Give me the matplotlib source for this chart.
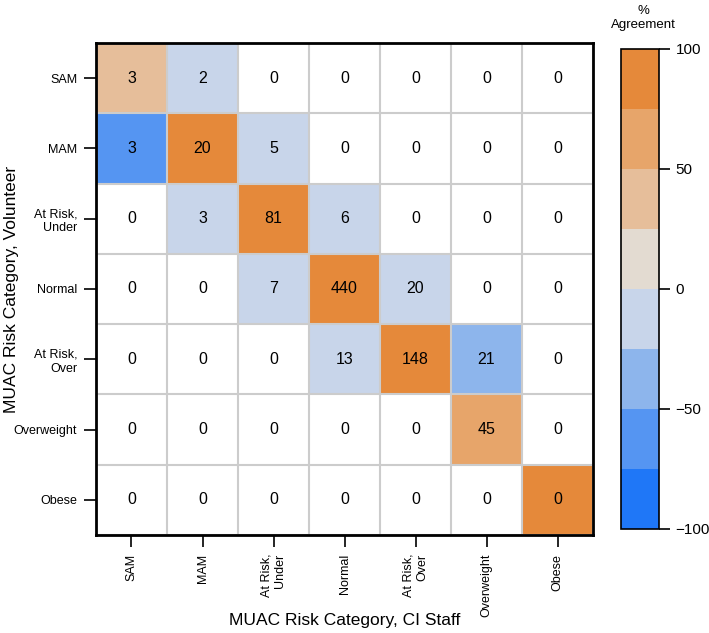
import numpy as np
import matplotlib
matplotlib.use("Agg")
import matplotlib.pyplot as plt
from matplotlib.colors import ListedColormap, BoundaryNorm
from matplotlib.cm import ScalarMappable

plt.rcParams['font.family'] = ['Liberation Sans', 'DejaVu Sans']

categories = ['SAM', 'MAM', 'At Risk,\nUnder', 'Normal', 'At Risk,\nOver', 'Overweight', 'Obese']

# counts: rows = volunteer, columns = CI staff
counts = [
    [3, 2, 0, 0, 0, 0, 0],
    [3, 20, 5, 0, 0, 0, 0],
    [0, 3, 81, 6, 0, 0, 0],
    [0, 0, 7, 440, 20, 0, 0],
    [0, 0, 0, 13, 148, 21, 0],
    [0, 0, 0, 0, 0, 45, 0],
    [0, 0, 0, 0, 0, 0, 0],
]

# % agreement shown by cell colour (blank = white)
nan = np.nan
agreement = [
    [50, -8, nan, nan, nan, nan, nan],
    [-50, 80, -5, nan, nan, nan, nan],
    [nan, -12, 87, -1, nan, nan, nan],
    [nan, nan, -8, 96, -12, nan, nan],
    [nan, nan, nan, -3, 88, -32, nan],
    [nan, nan, nan, nan, nan, 68, nan],
    [nan, nan, nan, nan, nan, nan, 100],
]

band_colors = ['#1f77f7', '#5595f2', '#8db5ec', '#c8d5ea',
               '#e3dbd1', '#e6be9a', '#e7a56a', '#e5893a']
bounds = np.linspace(-100, 100, 9)

cmap = ListedColormap(band_colors)
cmap.set_bad('white')

vals = np.array(agreement, dtype=float)
# bins closed on the right: (25, 50] etc.
idx = np.digitize(vals, bounds, right=True) - 1
idx = np.clip(idx, 0, 7).astype(float)
idx[np.isnan(vals)] = np.nan

fig = plt.figure(figsize=(7.09, 6.33), dpi=100)
ax = fig.add_axes([0.1354, 0.1548, 0.701, 0.7773])

ax.imshow(np.ma.masked_invalid(idx), cmap=cmap, vmin=-0.5, vmax=7.5,
          aspect='auto', interpolation='nearest')

n = len(categories)
for i in range(n):
    for j in range(n):
        ax.text(j, i, str(counts[i][j]), ha='center', va='center',
                fontsize=11.5, color='black')

ax.set_xticks(range(n))
ax.set_yticks(range(n))
ax.set_xticklabels(categories, rotation=90, fontsize=9, multialignment='right')
ax.set_yticklabels(categories, fontsize=9, multialignment='right')
ax.set_xticks(np.arange(-0.5, n, 1), minor=True)
ax.set_yticks(np.arange(-0.5, n, 1), minor=True)
ax.grid(which='minor', color='#cccccc', linewidth=1.5)
ax.tick_params(which='minor', length=0)
ax.tick_params(which='major', length=8.5, width=1.2, pad=5)
for s in ax.spines.values():
    s.set_linewidth(2)
    s.set_color('black')

ax.set_xlabel('MUAC Risk Category, CI Staff', fontsize=12.5)
ax.set_ylabel('MUAC Risk Category, Volunteer', fontsize=12.5)
ax.xaxis.set_label_coords(0.5, -0.158)
ax.yaxis.set_label_coords(-0.155, 0.5)

cax = fig.add_axes([0.8759, 0.1643, 0.0536, 0.7583])
sm = ScalarMappable(norm=BoundaryNorm(bounds, cmap.N), cmap=cmap)
cb = fig.colorbar(sm, cax=cax, ticks=[-100, -50, 0, 50, 100])
cb.outline.set_linewidth(1.2)
cb.ax.minorticks_off()
cb.ax.tick_params(length=8, width=1.2, labelsize=11, pad=4)
cb.ax.set_yticklabels(['\u2212100', '\u221250', '0', '50', '100'])
fig.text(0.907, 0.972, '%\nAgreement', ha='center', va='center', fontsize=9.5,
         linespacing=1.2)

fig.savefig('out.png', dpi=100)
